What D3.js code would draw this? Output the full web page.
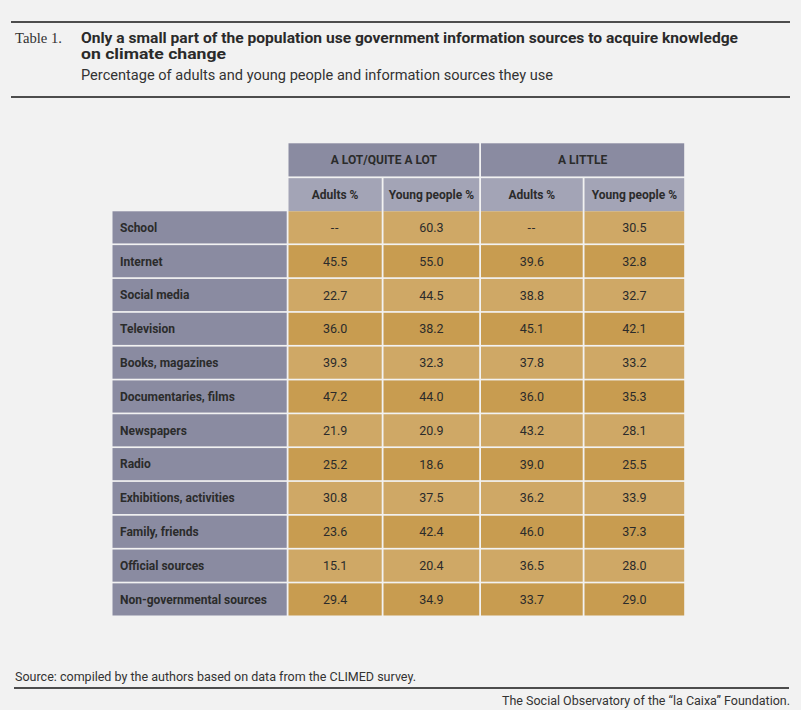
<!DOCTYPE html>
<html><head><meta charset="utf-8">
<script src="https://cdn.jsdelivr.net/npm/d3@7"></script>
<style>
html,body{margin:0;padding:0;background:#f2f2f2;}
svg{display:block;}
</style></head>
<body>
<svg id="chart" width="801" height="710"></svg>
<script>
// ---- data ----
const categories = ["School","Internet","Social media","Television","Books, magazines","Documentaries, films","Newspapers","Radio","Exhibitions, activities","Family, friends","Official sources","Non-governmental sources"];
const groups = ["A LOT/QUITE A LOT","A LITTLE"];
const columns = ["Adults %","Young people %","Adults %","Young people %"];
const lotAdults  = [null,45.5,22.7,36.0,39.3,47.2,21.9,25.2,30.8,23.6,15.1,29.4];
const lotYoung   = [60.3,55.0,44.5,38.2,32.3,44.0,20.9,18.6,37.5,42.4,20.4,34.9];
const littleAdults = [null,39.6,38.8,45.1,37.8,36.0,43.2,39.0,36.2,46.0,36.5,33.7];
const littleYoung  = [30.5,32.8,32.7,42.1,33.2,35.3,28.1,25.5,33.9,37.3,28.0,29.0];
const series = [lotAdults, lotYoung, littleAdults, littleYoung];

const titleLabel = "Table 1.";
const titleLines = ["Only a small part of the population use government information sources to acquire knowledge","on climate change"];
const subtitle = "Percentage of adults and young people and information sources they use";
const sourceText = "Source: compiled by the authors based on data from the CLIMED survey.";
const creditText = "The Social Observatory of the \u201Cla Caixa\u201D Foundation.";

// ---- layout ----
const svg = d3.select("#chart");
const colWidths = [95, 97.5, 103.5, 101.5];
const dataLeft = 288.5, labelLeft = 112.5, gap = 1.8;
const colEdges = [dataLeft];
colWidths.forEach((w,i)=>colEdges.push(colEdges[i]+w));
const colIdx = d3.range(columns.length);
const xCol = d3.scaleOrdinal().domain(colIdx).range(colEdges.slice(0,-1));
const wCol = d3.scaleOrdinal().domain(colIdx).range(colWidths);

const y = d3.scaleBand().domain(categories).range([211.3, 615.5]).paddingInner(0.05).paddingOuter(0);
const hdr = d3.scaleBand().domain(["group","col"]).range([143.3, 211.3]).paddingInner(0.05);

const fontSans = "Roboto, 'Liberation Sans', sans-serif";
const textCol = "#2b2b2b";

// rules
const rules = [{y1:22, x1:11, x2:790},{y1:97, x1:11, x2:790},{y1:688, x1:14, x2:789}];
svg.selectAll("line.rule").data(rules).join("line")
  .attr("x1",d=>d.x1).attr("x2",d=>d.x2).attr("y1",d=>d.y1).attr("y2",d=>d.y1)
  .attr("stroke","#4d4d4d").attr("stroke-width",2);

// titles
svg.append("text").attr("x",15).attr("y",42.5)
  .attr("font-family","'Liberation Serif', 'DejaVu Serif', serif").attr("font-size",15)
  .attr("fill","#333").attr("textLength",47).attr("lengthAdjust","spacingAndGlyphs").text(titleLabel);
const tl = [{t:titleLines[0], y:42.5, len:657},{t:titleLines[1], y:59, len:145}];
svg.selectAll("text.title").data(tl).join("text").attr("class","title")
  .attr("x",81).attr("y",d=>d.y).attr("font-family",fontSans).attr("font-weight",700)
  .attr("font-size",14.5).attr("fill","#2a2a2a")
  .attr("textLength",d=>d.len).attr("lengthAdjust","spacingAndGlyphs").text(d=>d.t);
svg.append("text").attr("x",81).attr("y",80).attr("font-family",fontSans).attr("font-size",14)
  .attr("fill","#333").attr("textLength",472).attr("lengthAdjust","spacingAndGlyphs").text(subtitle);

// header group row
const gData = groups.map((g,i)=>({g, x:xCol(i*2), w:wCol(i*2)+wCol(i*2+1)}));
svg.selectAll("rect.grp").data(gData).join("rect").attr("class","grp")
  .attr("x",d=>d.x).attr("y",hdr("group")).attr("width",d=>d.w-gap).attr("height",hdr.bandwidth())
  .attr("fill","#8a8ba1");
svg.selectAll("text.grp").data(gData).join("text").attr("class","grp")
  .attr("x",d=>d.x+(d.w-gap)/2).attr("y",hdr("group")+hdr.bandwidth()/2).attr("dy","0.36em")
  .attr("text-anchor","middle").attr("font-family",fontSans).attr("font-weight",700)
  .attr("font-size",12).attr("fill",textCol).text(d=>d.g);

// header col row
svg.selectAll("rect.col").data(colIdx).join("rect").attr("class","col")
  .attr("x",i=>xCol(i)).attr("y",hdr("col")).attr("width",i=>wCol(i)-gap).attr("height",hdr.bandwidth())
  .attr("fill","#a3a4b6");
svg.selectAll("text.col").data(colIdx).join("text").attr("class","col")
  .attr("x",i=>xCol(i)+(wCol(i)-gap)/2).attr("y",hdr("col")+hdr.bandwidth()/2).attr("dy","0.36em")
  .attr("text-anchor","middle").attr("font-family",fontSans).attr("font-weight",700)
  .attr("font-size",12).attr("fill",textCol).text(i=>columns[i]);

// row labels
svg.selectAll("rect.lab").data(categories).join("rect").attr("class","lab")
  .attr("x",labelLeft).attr("y",d=>y(d)).attr("width",dataLeft-labelLeft-gap).attr("height",y.bandwidth())
  .attr("fill","#8a8ba1");
svg.selectAll("text.lab").data(categories).join("text").attr("class","lab")
  .attr("x",labelLeft+7.5).attr("y",d=>y(d)+y.bandwidth()/2).attr("dy","0.36em")
  .attr("font-family",fontSans).attr("font-weight",700).attr("font-size",12)
  .attr("fill",textCol).text(d=>d);

// cells
const cells = [];
categories.forEach((c,r)=>series.forEach((s,ci)=>cells.push({c, r, ci, v:s[r]})));
svg.selectAll("rect.cell").data(cells).join("rect").attr("class","cell")
  .attr("x",d=>xCol(d.ci)).attr("y",d=>y(d.c)).attr("width",d=>wCol(d.ci)-gap).attr("height",y.bandwidth())
  .attr("fill",d=>d.r%2===0 ? "#cfa866" : "#c89c50");
svg.selectAll("text.cell").data(cells).join("text").attr("class","cell")
  .attr("x",d=>xCol(d.ci)+(wCol(d.ci)-gap)/2).attr("y",d=>y(d.c)+y.bandwidth()/2).attr("dy","0.36em")
  .attr("text-anchor","middle").attr("font-family",fontSans).attr("font-size",12.5)
  .attr("letter-spacing",d=>d.v==null ? "0.8px" : null)
  .attr("fill",textCol).text(d=>d.v==null ? "--" : d3.format(".1f")(d.v));

// footer
svg.append("text").attr("x",15).attr("y",681).attr("font-family",fontSans).attr("font-size",12.5)
  .attr("fill","#333").attr("textLength",401).attr("lengthAdjust","spacingAndGlyphs").text(sourceText);
svg.append("text").attr("x",790).attr("y",705).attr("text-anchor","end").attr("font-family",fontSans).attr("font-size",12.5)
  .attr("fill","#333").attr("textLength",288).attr("lengthAdjust","spacingAndGlyphs").text(creditText);
</script>
</body></html>
